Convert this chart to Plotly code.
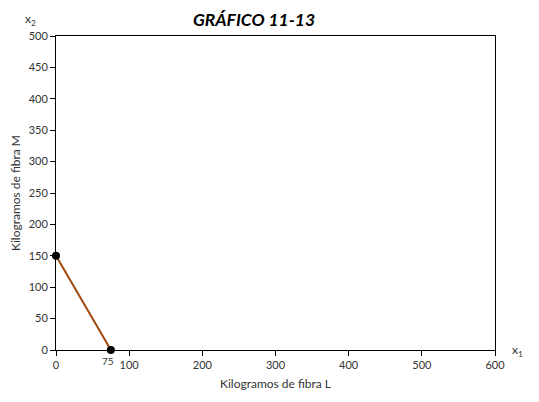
import plotly.graph_objects as go

# data
x1_vals = [0, 75]
x2_vals = [150, 0]
x_ticks = [0, 100, 200, 300, 400, 500, 600]
y_ticks = [0, 50, 100, 150, 200, 250, 300, 350, 400, 450, 500]

FONT = "Lato, 'Open Sans', sans-serif"
TXT = "#333333"

fig = go.Figure()

fig.add_trace(go.Scatter(
    x=x1_vals, y=x2_vals, mode="lines+markers",
    line=dict(color="#9E480E", width=2),
    marker=dict(color="black", size=8),
    cliponaxis=False, showlegend=False,
))

axis_common = dict(
    showgrid=False, zeroline=False, showline=True, linecolor="black", linewidth=1,
    mirror=True, ticks="outside", ticklen=5, tickcolor="black", automargin=False,
    tickfont=dict(size=11, color=TXT, family=FONT),
)

fig.update_xaxes(range=[0, 600], tickvals=x_ticks, **axis_common,
                 title=dict(text="Kilogramos de fibra L", font=dict(size=12, color=TXT, family=FONT), standoff=9))
fig.update_yaxes(range=[0, 500], tickvals=y_ticks, **axis_common,
                 title=dict(text="Kilogramos de fibra M", font=dict(size=12, color=TXT, family=FONT), standoff=10))

# extra "75" tick label under the intercept
fig.add_annotation(x=75, y=0, text="75", showarrow=False, yshift=-11, xshift=-3,
                   font=dict(size=10, color=TXT, family=FONT))
# axis variable names
fig.add_annotation(xref="paper", yref="paper", x=-0.057, y=1.054, text="x<sub>2</sub>",
                   xanchor="center", yanchor="middle",
                   showarrow=False, font=dict(size=12, color=TXT, family=FONT))
fig.add_annotation(xref="paper", yref="paper", x=1.052, y=0.0, text="x<sub>1</sub>",
                   xanchor="center", yanchor="middle",
                   showarrow=False, font=dict(size=12, color=TXT, family=FONT))

fig.update_layout(
    width=532, height=395,
    margin=dict(l=48, r=45, t=28, b=53),
    plot_bgcolor="white", paper_bgcolor="white",
    title=dict(text="<b><i>GRÁFICO 11-13</i></b>", xref="paper", x=0.451, xanchor="center",
               y=0.97, yanchor="middle",
               font=dict(size=17.5, color="black", family=FONT)),
)

fig.write_html("out.html")
